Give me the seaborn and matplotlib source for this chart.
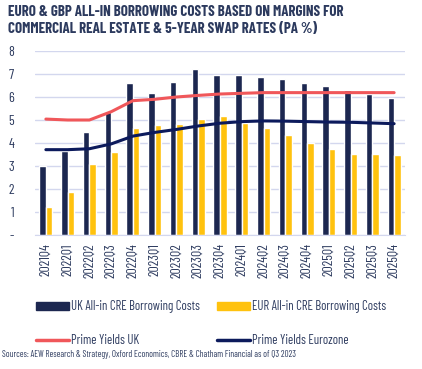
import numpy as np
import pandas as pd
import matplotlib
matplotlib.use("Agg")
import matplotlib.pyplot as plt
import seaborn as sns
from matplotlib.patches import Patch
from matplotlib.lines import Line2D

quarters = ["2021Q4", "2022Q1", "2022Q2", "2022Q3", "2022Q4", "2023Q1", "2023Q2", "2023Q3",
            "2023Q4", "2024Q1", "2024Q2", "2024Q3", "2024Q4", "2025Q1", "2025Q2", "2025Q3", "2025Q4"]
uk_costs = [3.0, 3.67, 4.48, 5.36, 6.6, 6.16, 6.65, 7.23, 6.97, 6.94, 6.88, 6.77, 6.62, 6.49, 6.3, 6.13, 5.94]
eur_costs = [1.23, 1.88, 3.09, 3.61, 4.67, 4.78, 4.84, 5.04, 5.17, 4.86, 4.65, 4.35, 3.99, 3.74, 3.52, 3.52, 3.48]
prime_uk = [5.04, 5.0, 5.0, 5.36, 5.84, 5.9, 6.0, 6.07, 6.13, 6.16, 6.19, 6.19, 6.19, 6.19, 6.19, 6.19, 6.19]
prime_ez = [3.71, 3.71, 3.75, 3.96, 4.3, 4.46, 4.59, 4.74, 4.86, 4.93, 4.96, 4.95, 4.93, 4.91, 4.9, 4.87, 4.84]

NAVY = "#1c2750"
GOLD = "#ffc20e"
RED = "#f0575a"
LINE_NAVY = "#0c1a5c"
TXT = "#2c3a5e"

sns.set_style("white")
plt.rcParams["font.family"] = ["Barlow Condensed", "DejaVu Sans"]

df = pd.DataFrame({
    "quarter": quarters * 2,
    "value": uk_costs + eur_costs,
    "series": ["UK All-in CRE Borrowing Costs"] * len(quarters) + ["EUR All-in CRE Borrowing Costs"] * len(quarters),
})

fig = plt.figure(figsize=(4.22, 3.69), dpi=100)
ax = fig.add_axes([35 / 422, 1 - 235 / 369, 370 / 422, 184 / 369])

sns.barplot(data=df, x="quarter", y="value", hue="series", order=quarters,
            palette=[NAVY, GOLD], width=0.6, gap=0, saturation=1, ax=ax, legend=False)
x = np.arange(len(quarters))
sns.lineplot(x=x, y=prime_uk, color=RED, linewidth=2.2, ax=ax)
sns.lineplot(x=x, y=prime_ez, color=LINE_NAVY, linewidth=2.2, ax=ax)

ax.set_ylim(0, 8)
ax.set_xlim(-0.5, len(quarters) - 0.5)
ax.set_yticks(range(0, 9))
ax.set_yticklabels(["-"] + [str(i) for i in range(1, 9)], fontsize=10, color=TXT)
ax.set_xticks(x)
ax.set_xticklabels(quarters, rotation=90, fontsize=10, color=TXT)
ax.tick_params(axis="y", length=0, pad=15)
ax.tick_params(axis="x", length=0, pad=6)
ax.set_xlabel("")
ax.set_ylabel("")
ax.grid(axis="y", color="#d3d7ee", linewidth=1)
ax.set_axisbelow(True)
for s in ["top", "right", "left"]:
    ax.spines[s].set_visible(False)
ax.spines["bottom"].set_color("#d3d7ee")

handles = [Patch(color=NAVY), Line2D([], [], color=RED, linewidth=2.5),
           Patch(color=GOLD), Line2D([], [], color=LINE_NAVY, linewidth=2.5)]
labels = ["UK All-in CRE Borrowing Costs", "Prime Yields UK",
          "EUR All-in CRE Borrowing Costs", "Prime Yields Eurozone"]
leg = fig.legend(handles, labels, ncol=2, loc="upper left", bbox_to_anchor=(0.071, 0.203),
                 frameon=False, fontsize=9.2, handlelength=2.55, handleheight=0.55,
                 handletextpad=0.2, columnspacing=1.3, labelspacing=1.6, labelcolor=TXT,
                 borderpad=0)

fig.text(0.02, 0.987, "EURO & GBP ALL-IN BORROWING COSTS BASED ON MARGINS FOR\nCOMMERCIAL REAL ESTATE & 5-YEAR SWAP RATES (PA %)",
         ha="left", va="top", fontsize=10.8, fontweight="bold", color=TXT, linespacing=1.25)
fig.text(0.005, 0.027, "Sources: AEW Research & Strategy, Oxford Economics, CBRE & Chatham Financial as of Q3 2023",
         ha="left", va="bottom", fontsize=6.5, color=TXT)

fig.savefig("out.png", dpi=100)
